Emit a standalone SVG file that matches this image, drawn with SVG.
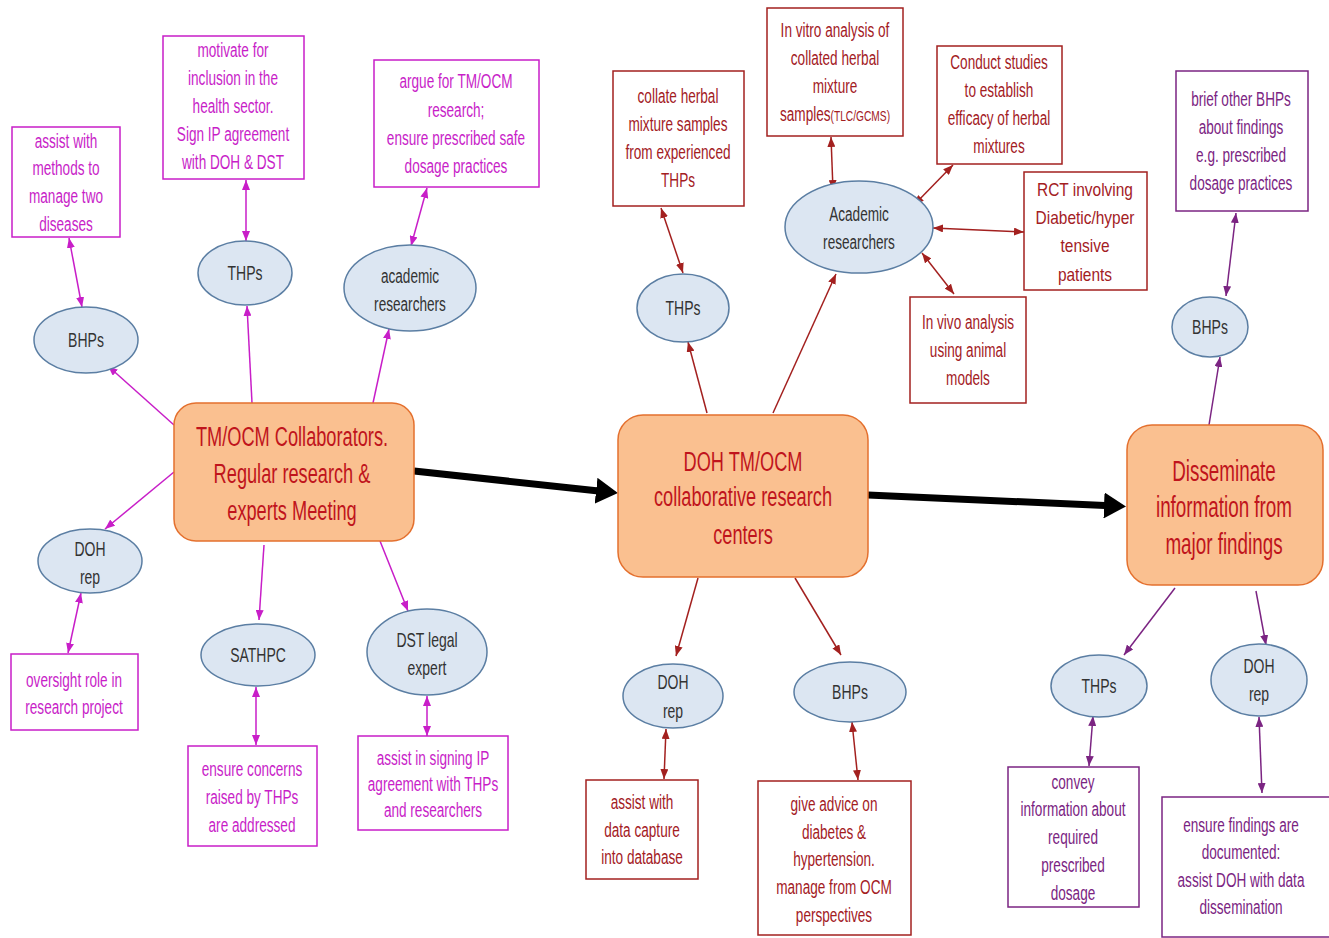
<svg xmlns="http://www.w3.org/2000/svg" width="1329" height="938" viewBox="0 0 1329 938">
<defs>
<style>
text{font-family:"Liberation Sans",Arial,sans-serif;text-anchor:middle}
.s{font-size:20px}
.m{font-size:28px;fill:#C0141C}
.mg{fill:#C81EC8}
.dr{fill:#A3201F}
.pu{fill:#7B2482}
.el{fill:#DCE6F2;stroke:#5B7EA3;stroke-width:1.5}
.et{fill:#333333;font-size:20px}
.bx{fill:#FFFFFF;stroke-width:1.5}
.bmg{stroke:#C81EC8}
.bdr{stroke:#A3201F}
.bpu{stroke:#7B2482}
.main{fill:#FAC090;stroke:#E4702E;stroke-width:1.5}
.cmg{stroke:#C81EC8;stroke-width:1.5;fill:none}
.cdr{stroke:#A3201F;stroke-width:1.5;fill:none}
.cpu{stroke:#7B2482;stroke-width:1.5;fill:none}
.thick{stroke:#000;stroke-width:7;fill:none}
</style>
<marker id="amg" viewBox="0 0 10 8" refX="10" refY="4" markerWidth="10" markerHeight="8" markerUnits="userSpaceOnUse" orient="auto-start-reverse"><path d="M0,0L10,4L0,8z" fill="#C81EC8"/></marker>
<marker id="adr" viewBox="0 0 10 8" refX="10" refY="4" markerWidth="10" markerHeight="8" markerUnits="userSpaceOnUse" orient="auto-start-reverse"><path d="M0,0L10,4L0,8z" fill="#A3201F"/></marker>
<marker id="apu" viewBox="0 0 10 8" refX="10" refY="4" markerWidth="10" markerHeight="8" markerUnits="userSpaceOnUse" orient="auto-start-reverse"><path d="M0,0L10,4L0,8z" fill="#7B2482"/></marker>
<marker id="abk" viewBox="0 0 22 26" refX="12" refY="13" markerWidth="22" markerHeight="26" markerUnits="userSpaceOnUse" orient="auto"><path d="M0,0L22,13L0,26z" fill="#000"/></marker>
</defs>
<rect width="1329" height="938" fill="#FFFFFF"/>

<g id="connectors">
<line class="thick" x1="414" y1="471" x2="608" y2="492" marker-end="url(#abk)"/>
<line class="thick" x1="868" y1="495" x2="1116" y2="506" marker-end="url(#abk)"/>

<line class="cmg" x1="174" y1="425" x2="108" y2="366" marker-end="url(#amg)"/>
<line class="cmg" x1="174" y1="472" x2="105" y2="529" marker-end="url(#amg)"/>
<line class="cmg" x1="252" y1="403" x2="247" y2="306" marker-end="url(#amg)"/>
<line class="cmg" x1="373" y1="403" x2="389" y2="329" marker-end="url(#amg)"/>
<line class="cmg" x1="264" y1="545" x2="259" y2="620" marker-end="url(#amg)"/>
<line class="cmg" x1="380" y1="541" x2="408" y2="611" marker-end="url(#amg)"/>
<line class="cmg" x1="69" y1="238" x2="82" y2="307" marker-start="url(#amg)" marker-end="url(#amg)"/>
<line class="cmg" x1="246" y1="180" x2="246" y2="241" marker-start="url(#amg)" marker-end="url(#amg)"/>
<line class="cmg" x1="427" y1="188" x2="411" y2="246" marker-start="url(#amg)" marker-end="url(#amg)"/>
<line class="cmg" x1="81" y1="593" x2="68" y2="653" marker-start="url(#amg)" marker-end="url(#amg)"/>
<line class="cmg" x1="256" y1="687" x2="256" y2="745" marker-start="url(#amg)" marker-end="url(#amg)"/>
<line class="cmg" x1="427" y1="696" x2="427" y2="736" marker-start="url(#amg)" marker-end="url(#amg)"/>

<line class="cdr" x1="707" y1="413" x2="688" y2="342" marker-end="url(#adr)"/>
<line class="cdr" x1="773" y1="413" x2="836" y2="274" marker-end="url(#adr)"/>
<line class="cdr" x1="698" y1="578" x2="676" y2="656" marker-end="url(#adr)"/>
<line class="cdr" x1="795" y1="578" x2="841" y2="655" marker-end="url(#adr)"/>
<line class="cdr" x1="661" y1="208" x2="683" y2="273" marker-start="url(#adr)" marker-end="url(#adr)"/>
<line class="cdr" x1="831" y1="137" x2="833" y2="190" marker-start="url(#adr)" marker-end="url(#adr)"/>
<line class="cdr" x1="953" y1="165" x2="914" y2="205" marker-start="url(#adr)" marker-end="url(#adr)"/>
<line class="cdr" x1="933" y1="228" x2="1024" y2="232" marker-start="url(#adr)" marker-end="url(#adr)"/>
<line class="cdr" x1="922" y1="253" x2="954" y2="294" marker-start="url(#adr)" marker-end="url(#adr)"/>
<line class="cdr" x1="666" y1="729" x2="664" y2="779" marker-start="url(#adr)" marker-end="url(#adr)"/>
<line class="cdr" x1="852" y1="722" x2="858" y2="780" marker-start="url(#adr)" marker-end="url(#adr)"/>

<line class="cpu" x1="1209" y1="425" x2="1220" y2="357" marker-end="url(#apu)"/>
<line class="cpu" x1="1236" y1="213" x2="1226" y2="296" marker-start="url(#apu)" marker-end="url(#apu)"/>
<line class="cpu" x1="1175" y1="588" x2="1124" y2="655" marker-end="url(#apu)"/>
<line class="cpu" x1="1256" y1="591" x2="1266" y2="645" marker-end="url(#apu)"/>
<line class="cpu" x1="1093" y1="716" x2="1089" y2="766" marker-start="url(#apu)" marker-end="url(#apu)"/>
<line class="cpu" x1="1259" y1="717" x2="1262" y2="793" marker-start="url(#apu)" marker-end="url(#apu)"/>
</g>

<!-- main nodes -->
<g id="main1">
<rect class="main" x="174" y="403" width="240" height="138" rx="22"/>
<g transform="translate(292,0) scale(0.65,1)"><text class="m" y="446">TM/OCM Collaborators.</text><text class="m" y="483">Regular research &amp;</text><text class="m" y="520">experts Meeting</text></g>
</g>
<g id="main2">
<rect class="main" x="618" y="415" width="250" height="162" rx="25"/>
<g transform="translate(743,0) scale(0.65,1)"><text class="m" y="471">DOH TM/OCM</text><text class="m" y="506">collaborative research</text><text class="m" y="544">centers</text></g>
</g>
<g id="main3">
<rect class="main" x="1127" y="425" width="196" height="160" rx="25"/>
<g transform="translate(1224,0) scale(0.65,1)"><text class="m" y="481" style="font-size:29px">Disseminate</text><text class="m" y="517" style="font-size:29px">information from</text><text class="m" y="554" style="font-size:29px">major findings</text></g>
</g>

<!-- left cluster -->
<g id="bhps1">
<ellipse class="el" cx="86" cy="340" rx="52" ry="33"/>
<g transform="translate(86,0) scale(0.7,1)"><text class="et" y="347">BHPs</text></g>
</g>
<g id="thps1">
<ellipse class="el" cx="245" cy="273" rx="47" ry="32"/>
<g transform="translate(245,0) scale(0.7,1)"><text class="et" y="280">THPs</text></g>
</g>
<g id="acad1">
<ellipse class="el" cx="410" cy="288" rx="66" ry="43"/>
<g transform="translate(410,0) scale(0.68,1)"><text class="et" y="283">academic</text><text class="et" y="311">researchers</text></g>
</g>
<g id="dohrep1">
<ellipse class="el" cx="90" cy="561" rx="52" ry="32"/>
<g transform="translate(90,0) scale(0.7,1)"><text class="et" y="556">DOH</text><text class="et" y="584">rep</text></g>
</g>
<g id="sathpc">
<ellipse class="el" cx="258" cy="655" rx="57" ry="31"/>
<g transform="translate(258,0) scale(0.7,1)"><text class="et" y="662">SATHPC</text></g>
</g>
<g id="dst">
<ellipse class="el" cx="427" cy="652" rx="60" ry="43"/>
<g transform="translate(427,0) scale(0.7,1)"><text class="et" y="647">DST legal</text><text class="et" y="675">expert</text></g>
</g>
<g id="box-assist-methods">
<rect class="bx bmg" x="12" y="127" width="108" height="110"/>
<g transform="translate(66,0) scale(0.68,1)"><text class="s mg" y="148">assist with</text><text class="s mg" y="175">methods to</text><text class="s mg" y="203">manage two</text><text class="s mg" y="231">diseases</text></g>
</g>
<g id="box-motivate">
<rect class="bx bmg" x="163" y="36" width="141" height="143"/>
<g transform="translate(233,0) scale(0.68,1)"><text class="s mg" y="57">motivate for</text><text class="s mg" y="85">inclusion in the</text><text class="s mg" y="113">health sector.</text><text class="s mg" y="141">Sign IP agreement</text><text class="s mg" y="169">with DOH &amp; DST</text></g>
</g>
<g id="box-argue">
<rect class="bx bmg" x="374" y="60" width="165" height="127"/>
<g transform="translate(456,0) scale(0.68,1)"><text class="s mg" y="88">argue for TM/OCM</text><text class="s mg" y="117">research;</text><text class="s mg" y="145">ensure prescribed safe</text><text class="s mg" y="173">dosage practices</text></g>
</g>
<g id="box-oversight">
<rect class="bx bmg" x="11" y="654" width="127" height="76"/>
<g transform="translate(74,0) scale(0.68,1)"><text class="s mg" y="687">oversight role in</text><text class="s mg" y="714">research project</text></g>
</g>
<g id="box-concerns">
<rect class="bx bmg" x="188" y="746" width="129" height="100"/>
<g transform="translate(252,0) scale(0.68,1)"><text class="s mg" y="776">ensure concerns</text><text class="s mg" y="804">raised by THPs</text><text class="s mg" y="832">are addressed</text></g>
</g>
<g id="box-signing">
<rect class="bx bmg" x="358" y="736" width="150" height="94"/>
<g transform="translate(433,0) scale(0.68,1)"><text class="s mg" y="765">assist in signing IP</text><text class="s mg" y="791">agreement with THPs</text><text class="s mg" y="817">and researchers</text></g>
</g>

<!-- middle cluster -->
<g id="thps2">
<ellipse class="el" cx="683" cy="308" rx="46" ry="34"/>
<g transform="translate(683,0) scale(0.7,1)"><text class="et" y="315">THPs</text></g>
</g>
<g id="acad2">
<ellipse class="el" cx="859" cy="227" rx="74" ry="46"/>
<g transform="translate(859,0) scale(0.68,1)"><text class="et" y="221">Academic</text><text class="et" y="249">researchers</text></g>
</g>
<g id="dohrep2">
<ellipse class="el" cx="673" cy="696" rx="50" ry="32"/>
<g transform="translate(673,0) scale(0.7,1)"><text class="et" y="689">DOH</text><text class="et" y="718">rep</text></g>
</g>
<g id="bhps2">
<ellipse class="el" cx="850" cy="692" rx="56" ry="30"/>
<g transform="translate(850,0) scale(0.7,1)"><text class="et" y="699">BHPs</text></g>
</g>
<g id="box-collate">
<rect class="bx bdr" x="613" y="71" width="131" height="135"/>
<g transform="translate(678,0) scale(0.68,1)"><text class="s dr" y="103">collate herbal</text><text class="s dr" y="131">mixture samples</text><text class="s dr" y="159">from experienced</text><text class="s dr" y="187">THPs</text></g>
</g>
<g id="box-invitro">
<rect class="bx bdr" x="767" y="8" width="136" height="128"/>
<g transform="translate(835,0) scale(0.68,1)"><text class="s dr" y="37">In vitro analysis of</text><text class="s dr" y="65">collated herbal</text><text class="s dr" y="93">mixture</text><text class="s dr" y="121">samples<tspan style="font-size:15px">(TLC/GCMS)</tspan></text></g>
</g>
<g id="box-conduct">
<rect class="bx bdr" x="937" y="46" width="125" height="118"/>
<g transform="translate(999,0) scale(0.68,1)"><text class="s dr" y="69">Conduct studies</text><text class="s dr" y="97">to establish</text><text class="s dr" y="125">efficacy of herbal</text><text class="s dr" y="153">mixtures</text></g>
</g>
<g id="box-rct">
<rect class="bx bdr" x="1024" y="172" width="123" height="118"/>
<g transform="translate(1085,0) scale(0.86,1)"><text class="dr" style="font-size:18px" y="196">RCT involving</text><text class="dr" style="font-size:18px" y="224">Diabetic/hyper</text><text class="dr" style="font-size:18px" y="252">tensive</text><text class="dr" style="font-size:18px" y="281">patients</text></g>
</g>
<g id="box-invivo">
<rect class="bx bdr" x="910" y="297" width="116" height="106"/>
<g transform="translate(968,0) scale(0.68,1)"><text class="s dr" y="329">In vivo analysis</text><text class="s dr" y="357">using animal</text><text class="s dr" y="385">models</text></g>
</g>
<g id="box-datacapture">
<rect class="bx bdr" x="586" y="780" width="112" height="99"/>
<g transform="translate(642,0) scale(0.68,1)"><text class="s dr" y="809">assist with</text><text class="s dr" y="837">data capture</text><text class="s dr" y="864">into database</text></g>
</g>
<g id="box-advice">
<rect class="bx bdr" x="758" y="781" width="153" height="154"/>
<g transform="translate(834,0) scale(0.68,1)"><text class="s dr" y="811">give advice on</text><text class="s dr" y="839">diabetes &amp;</text><text class="s dr" y="866">hypertension.</text><text class="s dr" y="894">manage from OCM</text><text class="s dr" y="922">perspectives</text></g>
</g>

<!-- right cluster -->
<g id="bhps3">
<ellipse class="el" cx="1210" cy="327" rx="38" ry="30"/>
<g transform="translate(1210,0) scale(0.7,1)"><text class="et" y="334">BHPs</text></g>
</g>
<g id="thps3">
<ellipse class="el" cx="1099" cy="686" rx="48" ry="31"/>
<g transform="translate(1099,0) scale(0.7,1)"><text class="et" y="693">THPs</text></g>
</g>
<g id="dohrep3">
<ellipse class="el" cx="1259" cy="680" rx="48" ry="36"/>
<g transform="translate(1259,0) scale(0.7,1)"><text class="et" y="673">DOH</text><text class="et" y="701">rep</text></g>
</g>
<g id="box-brief">
<rect class="bx bpu" x="1176" y="71" width="132" height="140"/>
<g transform="translate(1241,0) scale(0.68,1)"><text class="s pu" y="106">brief other BHPs</text><text class="s pu" y="134">about findings</text><text class="s pu" y="162">e.g. prescribed</text><text class="s pu" y="190">dosage practices</text></g>
</g>
<g id="box-convey">
<rect class="bx bpu" x="1008" y="767" width="131" height="140"/>
<g transform="translate(1073,0) scale(0.68,1)"><text class="s pu" y="789">convey</text><text class="s pu" y="816">information about</text><text class="s pu" y="844">required</text><text class="s pu" y="872">prescribed</text><text class="s pu" y="900">dosage</text></g>
</g>
<g id="box-findings">
<rect class="bx bpu" x="1162" y="797" width="168" height="140"/>
<g transform="translate(1241,0) scale(0.68,1)"><text class="s pu" y="832">ensure findings are</text><text class="s pu" y="859">documented:</text><text class="s pu" y="887">assist DOH with data</text><text class="s pu" y="914">dissemination</text></g>
</g>
</svg>
